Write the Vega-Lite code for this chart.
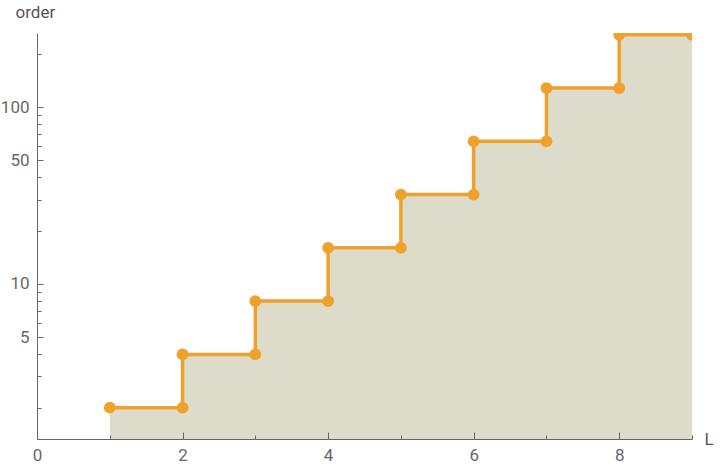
{
  "$schema": "https://vega.github.io/schema/vega-lite/v6.json",
  "width": 655,
  "height": 406,
  "autosize": {"type": "none"},
  "padding": {"left": 37, "top": 33, "right": 28, "bottom": 30},
  "background": "white",
  "config": {
    "view": {"stroke": null},
    "font": "Roboto",
    "axis": {
      "grid": false,
      "domainColor": "#666666",
      "tickColor": "#666666",
      "tickWidth": 1,
      "labelColor": "#666666",
      "titleColor": "#555555",
      "labelFontSize": 17,
      "titleFontSize": 17,
      "titleFontWeight": "normal",
      "labelFlush": false,
      "labelOverlap": false
    }
  },
  "data": {
    "values": [
      {"i": 0, "L": 1, "order": 2},
      {"i": 1, "L": 2, "order": 2},
      {"i": 2, "L": 2, "order": 4},
      {"i": 3, "L": 3, "order": 4},
      {"i": 4, "L": 3, "order": 8},
      {"i": 5, "L": 4, "order": 8},
      {"i": 6, "L": 4, "order": 16},
      {"i": 7, "L": 5, "order": 16},
      {"i": 8, "L": 5, "order": 32},
      {"i": 9, "L": 6, "order": 32},
      {"i": 10, "L": 6, "order": 64},
      {"i": 11, "L": 7, "order": 64},
      {"i": 12, "L": 7, "order": 128},
      {"i": 13, "L": 8, "order": 128},
      {"i": 14, "L": 8, "order": 256},
      {"i": 15, "L": 9, "order": 256}
    ]
  },
  "layer": [
    {
      "transform": [{"filter": "datum.i % 2 == 0 || datum.i == 15"}],
      "mark": {"type": "area", "color": "#DDDCCB", "opacity": 1, "clip": true, "interpolate": "step-after"},
      "encoding": {
        "x": {
          "field": "L",
          "type": "quantitative",
          "scale": {"domain": [0, 9], "nice": false, "zero": false},
          "axis": {
            "zindex": 1,
            "values": [0, 0.5, 1, 1.5, 2, 2.5, 3, 3.5, 4, 4.5, 5, 5.5, 6, 6.5, 7, 7.5, 8, 8.5, 9],
            "labelExpr": "datum.value % 2 == 0 ? format(datum.value, 'd') : ''",
            "tickSize": {"condition": {"test": "datum.value % 2 == 0", "value": -7}, "value": -4},
            "labelPadding": 15,
            "title": "L",
            "titleX": 667,
            "titleY": 0,
            "titleAlign": "left",
            "titleBaseline": "middle"
          }
        },
        "y": {
          "field": "order",
          "type": "quantitative",
          "stack": null,
          "scale": {"type": "log", "domain": [1.33, 262], "nice": false},
          "axis": {
            "zindex": 1,
            "values": [2, 3, 4, 5, 6, 7, 8, 9, 10, 20, 30, 40, 50, 60, 70, 80, 90, 100, 200],
            "labelExpr": "indexof([5, 10, 50, 100], datum.value) >= 0 ? format(datum.value, 'd') : ''",
            "tickSize": {"condition": {"test": "indexof([5, 10, 50, 100], datum.value) >= 0", "value": -6}, "value": -4},
            "labelPadding": 14,
            "title": "order",
            "titleAngle": 0,
            "titleX": -22,
            "titleY": -16,
            "titleAlign": "left",
            "titleBaseline": "alphabetic"
          }
        },
        "y2": {"datum": 1.33}
      }
    },
    {
      "mark": {"type": "line", "color": "#F0A12B", "strokeWidth": 3.5, "clip": true},
      "encoding": {
        "x": {"field": "L", "type": "quantitative"},
        "y": {"field": "order", "type": "quantitative"},
        "order": {"field": "i", "type": "quantitative"}
      }
    },
    {
      "mark": {"type": "circle", "color": "#F0A12B", "opacity": 1, "size": 140, "clip": true},
      "encoding": {
        "x": {"field": "L", "type": "quantitative"},
        "y": {"field": "order", "type": "quantitative"}
      }
    }
  ]
}
